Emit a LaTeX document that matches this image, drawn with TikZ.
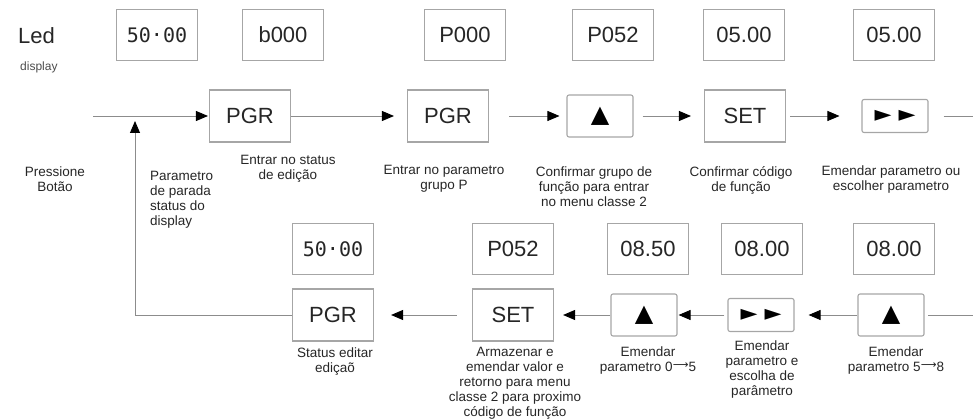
\documentclass[tikz,border=0pt]{standalone}
\usepackage{fontspec}
\setmainfont{Liberation Sans}
\newfontfamily\lcdfont{DejaVu Sans Mono}
\newfontfamily\symfont{DejaVu Sans}
\usetikzlibrary{arrows.meta}
\newcommand\tinyto{{\symfont\fontsize{11}{11}\selectfont\raisebox{.35em}{⟶}}}

\begin{document}
\begin{tikzpicture}
	[x=1pt,y=-1pt,
	box/.style={draw=black!35, line width=1.1pt, inner sep=0pt, text=black!85},
	disp/.style={box, minimum width=81pt, minimum height=51pt, font=\fontsize{22}{26}\selectfont},
	lcd/.style={disp, font=\lcdfont\fontsize{20}{24}\selectfont},
	key/.style={box, minimum width=81pt, minimum height=52pt, font=\fontsize{22}{26}\selectfont},
	tri/.style={box, rounded corners=2pt, minimum width=66pt, minimum height=42pt, font=\symfont\fontsize{24}{26}\selectfont, text=black},
	ptr/.style={box, rounded corners=2pt, minimum width=66pt, minimum height=33pt, font=\symfont\fontsize{22}{24}\selectfont, text=black},
	lbl/.style={align=center, inner sep=0pt, text=black!85, font=\fontsize{13.5}{15}\selectfont},
	line/.style={draw=black!45, line width=0.9pt},
	link/.style={line, -{Triangle[length=12pt,width=10pt,color=black]}}]
	\useasboundingbox (0,0) rectangle (973,419);

	\node[anchor=west, inner sep=0pt, text=black!85, font=\fontsize{22}{26}\selectfont] (led) at (18,36) {Led};
	\node[anchor=west, inner sep=0pt, text=black!70, font=\fontsize{12}{14}\selectfont] (ledsub) at (20,67) {display};

	% display, first pass
	\node[lcd] (d1) at (157,35) {50\raisebox{.3em}{.}00};
	\node[disp] (d2) at (283,35) {b000};
	\node[disp] (d3) at (465,35) {P000};
	\node[disp] (d4) at (613,35) {P052};
	\node[disp] (d5) at (744,35) {05.00};
	\node[disp] (d6) at (894,35) {05.00};

	% keys, first pass
	\coordinate (in) at (93,116);
	\node[key] (k1) at (250,116) {PGR};
	\node[key] (k2) at (448,116) {PGR};
	\node[tri] (k3) at (600,116) {▲};
	\node[key] (k4) at (745,116) {SET};
	\node[ptr] (k5) at (895,116) {►\hspace{7pt}►};
	\coordinate (out) at (973,116);

	% display, second pass
	\node[lcd] (e1) at (333,249) {50\raisebox{.3em}{.}00};
	\node[disp] (e2) at (513,249) {P052};
	\node[disp] (e3) at (648,249) {08.50};
	\node[disp] (e4) at (762,249) {08.00};
	\node[disp] (e5) at (894,249) {08.00};

	% keys, second pass
	\node[key] (c1) at (333,315) {PGR};
	\node[key] (c2) at (513,315) {SET};
	\node[tri] (c3) at (644,315) {▲};
	\node[ptr] (c4) at (761,315) {►\hspace{7pt}►};
	\node[tri] (c5) at (891,315) {▲};
	\coordinate (back) at (973,315);
	\coordinate (up) at (135,121);

	\foreach \from/\to/\s/\e in {in/k1/0/1,k1/k2/0/13,k2/k3/20/7,k3/k4/9/13,k4/k5/4/22,c5/c4/0/14,c4/c3/3/1,c3/c2/0/9,c2/c1/15/17}
	\draw[link, shorten <=\s pt, shorten >=\e pt] (\from) -- (\to);
	\draw[line, shorten <=15pt] (k5) -- (out);
	\draw[line, shorten >=3pt] (back) -- (c5);
	\draw[link] (c1) -| (up);

	\node[lbl] (t0) at (55,179) {Pressione\\Botão};
	\node[lbl, align=left, anchor=west] (t1) at (150,200) {Parametro\\de parada\\status do\\display};
	\node[lbl] (t2) at (288,169) {Entrar no status\\de edição};
	\node[lbl] (t3) at (444,179) {Entrar no parametro\\grupo P};
	\node[lbl] (t4) at (594,187) {Confirmar grupo de\\função para entrar\\no menu classe 2};
	\node[lbl] (t5) at (741,180) {Confirmar código\\de função};
	\node[lbl] (t6) at (891,180) {Emendar parametro ou\\escolher parametro};
	\node[lbl] (t7) at (335,362) {Status editar\\ediçaõ};
	\node[lbl] (t8) at (515,383) {Armazenar e\\emendar valor e\\retorno para menu\\classe 2 para proximo\\código de função};
	\node[lbl] (t9) at (648,361) {Emendar\\parametro 0\tinyto5};
	\node[lbl] (t10) at (762,370) {Emendar\\parametro e\\escolha de\\parâmetro};
	\node[lbl] (t11) at (896,361) {Emendar\\parametro 5\tinyto8};
\end{tikzpicture}
\end{document}
